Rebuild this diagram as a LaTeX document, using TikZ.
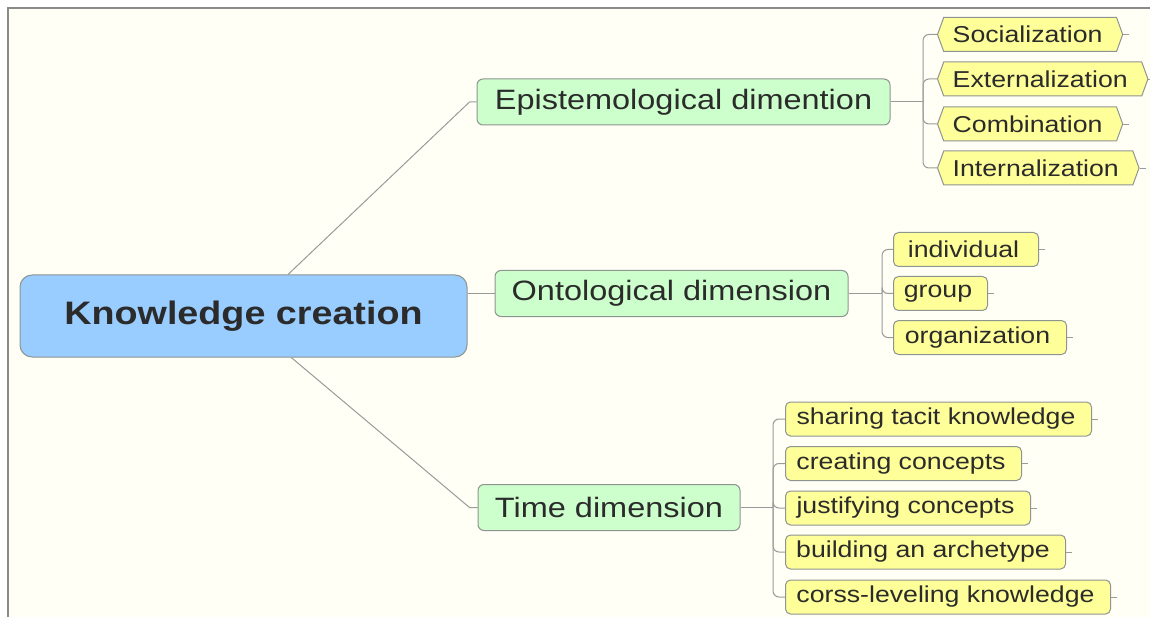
\documentclass[tikz,border=0pt]{standalone}
\usepackage{fontspec}
\setmainfont[FakeStretch=1.16]{Liberation Sans}
\usetikzlibrary{shapes.symbols}
\definecolor{bgcream}{HTML}{FFFFF6}
\definecolor{framegray}{HTML}{8A8A8A}
\definecolor{rootblue}{HTML}{99CCFF}
\definecolor{dimgreen}{HTML}{CCFFCC}
\definecolor{leafyellow}{HTML}{FFFF99}
\definecolor{boxline}{HTML}{8E9490}
\definecolor{linkgray}{HTML}{9A9A9A}
\definecolor{ink}{HTML}{2B2B2B}
\begin{document}
\begin{tikzpicture}[x=1pt,y=-1pt,
  topic/.style={rectangle, rounded corners=12pt, draw=boxline, fill=rootblue, line width=1pt, minimum height=82pt, font=\fontsize{32.5}{38}\selectfont\bfseries, text=ink},
  dim/.style={rectangle, rounded corners=6pt, draw=boxline, fill=dimgreen, line width=1pt, minimum height=46pt, inner xsep=10pt, font=\fontsize{28}{33}\selectfont, text=ink},
  leaf/.style={rectangle, rounded corners=5pt, draw=boxline, fill=leafyellow, line width=1pt, minimum height=34pt, inner xsep=9pt, anchor=west, font=\fontsize{23}{27}\selectfont, text=ink, execute at end node={\hspace{5pt}}},
  hexleaf/.style={leaf, shape=signal, signal to=west and east, signal pointer angle=140, sharp corners, execute at end node={}},
  link/.style={draw=linkgray, line width=1pt},
  tick/.style={draw=linkgray, line width=0.8pt}]
\useasboundingbox (0,0) rectangle (1150,617);
\fill[white] (0,0) rectangle (1150,617);
\fill[bgcream] (8,8) rectangle (1150,617);
\draw[framegray, line width=1.5pt] (8,617) -- (8,8) -- (1150,8);

% main topic and dimensions
\node[topic, minimum width=447pt] (root) at (243.5,316){Knowledge creation};
\node[dim, minimum width=413pt] (epi) at (683.5,102){Epistemological dimention};
\node[dim, minimum width=353pt] (onto) at (671.5,293.5){Ontological dimension};
\node[dim, minimum width=262pt] (time) at (609,507.5){Time dimension};
\draw[link](root.43) -- ([xshift=-7pt]epi.west) -- (epi.west);
\draw[link](root.east |- onto.west) -- (onto.west);
\draw[link](root.-41) -- ([xshift=-8pt]time.west) -- (time.west);

% epistemological
\coordinate (epifork) at (923,102);
\node[hexleaf, minimum width=176pt] (soc) at (937,34.5){Socialization};
\node[hexleaf, minimum width=203pt] (ext) at (937,79){Externalization};
\node[hexleaf, minimum width=176pt] (comb) at (937,124){Combination};
\node[hexleaf, minimum width=193pt] (inter) at (937,168){Internalization};
\draw[link](epi.east) -- (epifork);
\draw[link, rounded corners=6pt](epifork) |- (soc.west);
\draw[link, rounded corners=6pt](epifork) |- (ext.west);
\draw[link, rounded corners=6pt](epifork) |- (comb.west);
\draw[link, rounded corners=6pt](epifork) |- (inter.west);
\draw[tick](soc.east) -- ++(6,0);
\draw[tick](ext.east) -- ++(6,0);
\draw[tick](comb.east) -- ++(6,0);
\draw[tick](inter.east) -- ++(6,0);

% ontological
\coordinate (ontofork) at (882,293.5);
\node[leaf, minimum width=145pt] (indiv) at (893,249.5){individual};
\node[leaf, minimum width=94pt] (grp) at (893,293.5){group};
\node[leaf, minimum width=173pt] (org) at (893,337.5){organization};
\draw[link](onto.east) -- (ontofork);
\draw[link, rounded corners=6pt](ontofork) |- (indiv.west);
\draw[link, rounded corners=6pt](ontofork) |- (grp.west);
\draw[link, rounded corners=6pt](ontofork) |- (org.west);
\draw[tick](indiv.east) -- ++(6,0);
\draw[tick](grp.east) -- ++(6,0);
\draw[tick](org.east) -- ++(6,0);

% time
\coordinate (timefork) at (773,507.5);
\node[leaf, minimum width=306pt] (share) at (785,419){sharing tacit knowledge};
\node[leaf, minimum width=236pt] (create) at (785,463.5){creating concepts};
\node[leaf, minimum width=245pt] (justify) at (785,508){justifying concepts};
\node[leaf, minimum width=280pt] (build) at (785,552){building an archetype};
\node[leaf, minimum width=325pt] (cross) at (785,597){corss-leveling knowledge};
\draw[link](time.east) -- (timefork);
\draw[link, rounded corners=6pt](timefork) |- (share.west);
\draw[link, rounded corners=6pt](timefork) |- (create.west);
\draw[link, rounded corners=6pt](timefork) |- (justify.west);
\draw[link, rounded corners=6pt](timefork) |- (build.west);
\draw[link, rounded corners=6pt](timefork) |- (cross.west);
\draw[tick](share.east) -- ++(6,0);
\draw[tick](create.east) -- ++(6,0);
\draw[tick](justify.east) -- ++(6,0);
\draw[tick](build.east) -- ++(6,0);
\draw[tick](cross.east) -- ++(6,0);

\end{tikzpicture}
\end{document}
